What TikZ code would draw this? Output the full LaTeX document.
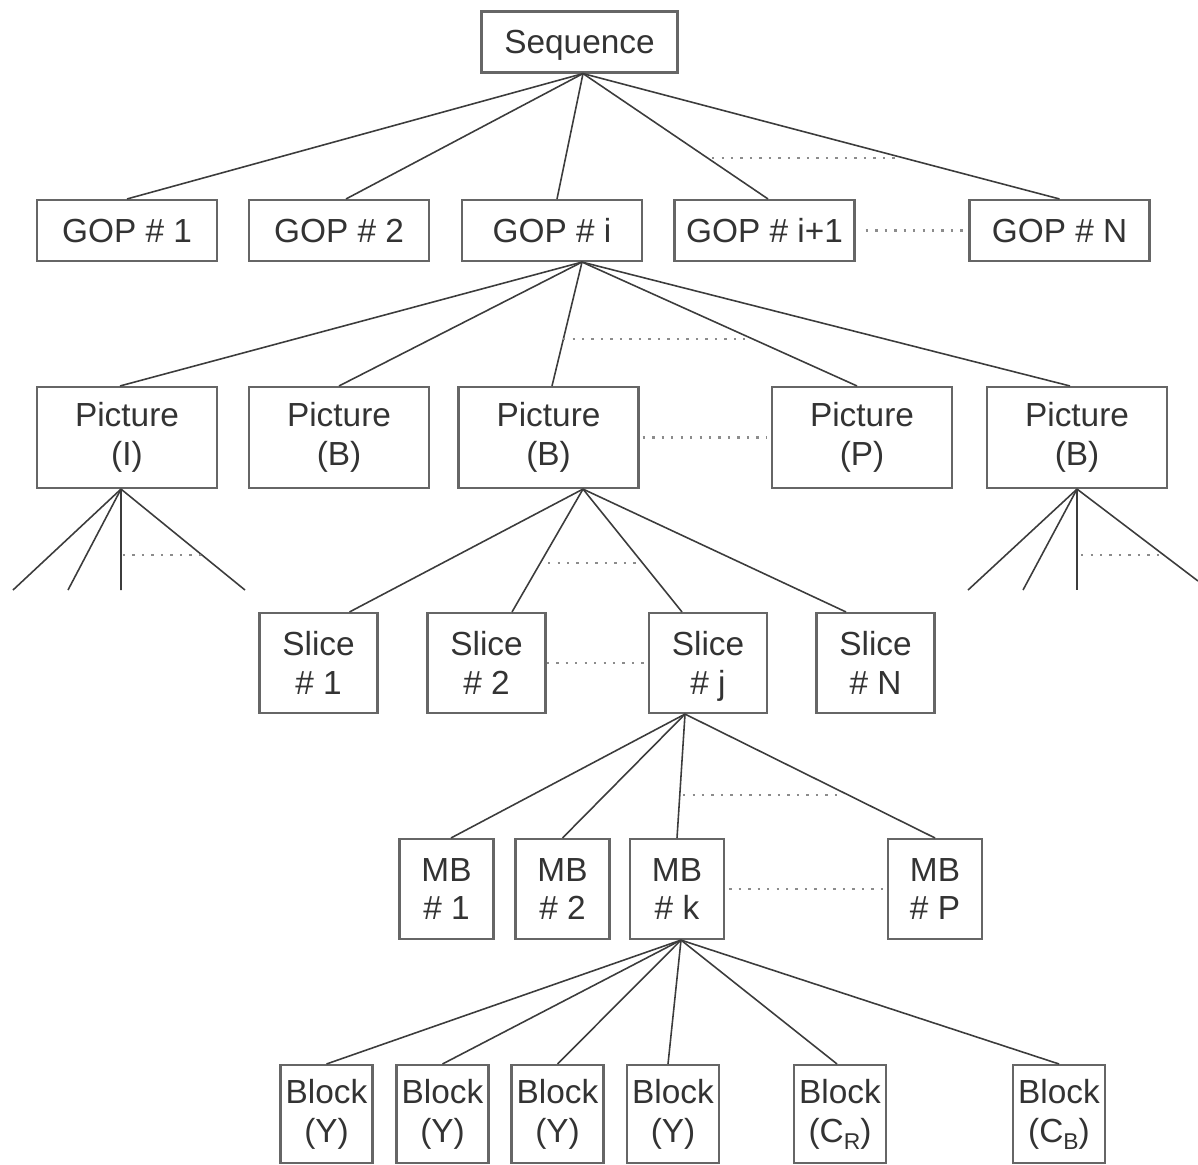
\documentclass[tikz,border=0pt]{standalone}
\usepackage{fontspec}
\setmainfont{Liberation Sans}
\usepackage{tikz}
\usetikzlibrary{positioning}
\definecolor{boxgray}{HTML}{666666}
\definecolor{linegray}{HTML}{3C3C3C}
\definecolor{dotgray}{HTML}{8C8C8C}
\definecolor{txtgray}{HTML}{333333}
\newcommand{\chsub}[1]{\smash{\raisebox{-0.45ex}{\fontsize{6.5}{7}\selectfont #1}}}

\begin{document}
\begin{tikzpicture}[x=0.1mm, y=-0.1mm]
	\tikzstyle{every node} = [draw = boxgray, line width = 0.6pt, text = txtgray, inner sep = 0pt, align = center, font = \fontsize{9.5}{11}\selectfont]
	\tikzstyle{gopbox} = [minimum width = 18mm, minimum height = 6.1mm]
	\tikzstyle{picbox} = [minimum width = 18mm, minimum height = 10.1mm]
	\tikzstyle{slicebox} = [minimum width = 11.8mm, minimum height = 10mm]
	\tikzstyle{mbbox} = [minimum width = 9.4mm, minimum height = 10mm]
	\tikzstyle{blkbox} = [minimum width = 9.2mm, minimum height = 9.8mm]
	\tikzstyle{link} = [draw = linegray, line width = 0.45pt]
	\tikzstyle{more} = [draw = dotgray, line width = 0.7pt, dotted]
\useasboundingbox (0, 0) rectangle (1198, 1164);

% top
\node[minimum width = 19.6mm, minimum height = 6.1mm, text depth = 0pt] (seq) at (579.5, 42) {Sequence};

% GOPs
\node[gopbox] (g1) at (127, 230.5) {GOP \# 1};
\node[gopbox] (g2) at (339, 230.5) {GOP \# 2};
\node[gopbox] (gi) at (552, 230.5) {GOP \# i};
\node[gopbox] (gi1) at (764.5, 230.5) {GOP \# i+1};
\node[gopbox] (gN) at (1059.5, 230.5) {GOP \# N};

% pictures
\node[picbox] (p1) at (127, 437.5) {Picture\\(I)};
\node[picbox] (p2) at (339, 437.5) {Picture\\(B)};
\node[picbox] (p3) at (548.5, 437.5) {Picture\\(B)};
\node[picbox] (p4) at (862, 437.5) {Picture\\(P)};
\node[picbox] (p5) at (1077, 437.5) {Picture\\(B)};

% slices
\node[slicebox] (s1) at (318.5, 663) {Slice\\\# 1};
\node[slicebox] (s2) at (486.5, 663) {Slice\\\# 2};
\node[slicebox] (sj) at (708, 663) {Slice\\\# \smash{j}};
\node[slicebox] (sN) at (875.5, 663) {Slice\\\# N};

% macroblocks
\node[mbbox] (m1) at (446.5, 889) {MB\\\# 1};
\node[mbbox] (m2) at (562.5, 889) {MB\\\# 2};
\node[mbbox] (mk) at (677, 889) {MB\\\# k};
\node[mbbox] (mP) at (935, 889) {MB\\\# P};

% blocks
\node[blkbox] (b1) at (326.5, 1114) {Block\\(Y)};
\node[blkbox] (b2) at (442.5, 1114) {Block\\(Y)};
\node[blkbox] (b3) at (557.5, 1114) {Block\\(Y)};
\node[blkbox] (b4) at (673, 1114) {Block\\(Y)};
\node[blkbox] (b5) at (840, 1114) {Block\\(C\chsub{R})};
\node[blkbox] (b6) at (1059, 1114) {Block\\(C\chsub{B})};

% fan origins and loose ends
\coordinate (seqo) at ([xshift = 0.35mm]seq.south);
\coordinate (gio) at ([xshift = 3mm]gi.south);
\coordinate (p1o) at ([xshift = -0.6mm]p1.south);
\coordinate (p3o) at ([xshift = 3.45mm]p3.south);
\coordinate (p5o) at (p5.south);
\coordinate (sjo) at ([xshift = -2.3mm]sj.south);
\coordinate (mko) at ([xshift = 0.4mm]mk.south);
\coordinate (e1) at (13, 590);
\coordinate (e2) at (68, 590);
\coordinate (e3) at (121, 590);
\coordinate (e4) at (245, 590);
\coordinate (f1) at (968, 590);
\coordinate (f2) at (1023, 590);
\coordinate (f3) at (1077, 590);
\coordinate (f4) at (1198, 581);

	\path[link] (seqo) -- (g1.north);
	\path[link] (seqo) -- ([xshift = 0.7mm]g2.north);
	\path[link] (seqo) -- ([xshift = 0.5mm]gi.north);
	\path[link] (seqo) -- ([xshift = 0.35mm]gi1.north);
	\path[link] (seqo) -- (gN.north);

	\path[link] (gio) -- ([xshift = -0.7mm]p1.north);
	\path[link] (gio) -- (p2.north);
	\path[link] (gio) -- ([xshift = 0.35mm]p3.north);
	\path[link] (gio) -- ([xshift = -0.5mm]p4.north);
	\path[link] (gio) -- ([xshift = -0.7mm]p5.north);

	\path[link] (p1o) -- (e1);
	\path[link] (p1o) -- (e2);
	\path[link] (p1o) -- (e3);
	\path[link] (p1o) -- (e4);
	\path[link] (p5o) -- (f1);
	\path[link] (p5o) -- (f2);
	\path[link] (p5o) -- (f3);
	\path[link] (p5o) -- (f4);

	\path[link] (p3o) -- ([xshift = 3.1mm]s1.north);
	\path[link] (p3o) -- ([xshift = 2.55mm]s2.north);
	\path[link] (p3o) -- ([xshift = -2.6mm]sj.north);
	\path[link] (p3o) -- ([xshift = -2.95mm]sN.north);

	\path[link] (sjo) -- ([xshift = 0.45mm]m1.north);
	\path[link] (sjo) -- (m2.north);
	\path[link] (sjo) -- (mk.north);
	\path[link] (sjo) -- (mP.north);

	\path[link] (mko) -- (b1.north);
	\path[link] (mko) -- (b2.north);
	\path[link] (mko) -- (b3.north);
	\path[link] (mko) -- ([xshift = -0.5mm]b4.north);
	\path[link] (mko) -- ([xshift = -0.3mm]b5.north);
	\path[link] (mko) -- (b6.north);

	% dots for the ones left out
	\path[more] (712, 158) -- (897, 158);
	\path[more] ([xshift = 1mm]gi1.east) -- ([xshift = -0.4mm]gN.west);
	\path[more] (563, 339) -- (745, 339);
	\path[more] ([xshift = 0.3mm]p3.east) -- ([xshift = -0.4mm]p4.west);
	\path[more] (123, 555) -- (207, 555);
	\path[more] (1081, 555) -- (1160, 555);
	\path[more] (548, 563) -- (640, 563);
	\path[more] (s2.east) -- ([xshift = -0.4mm]sj.west);
	\path[more] (683, 795) -- (838, 795);
	\path[more] ([xshift = 0.4mm]mk.east) -- ([xshift = -0.2mm]mP.west);
\end{tikzpicture}
\end{document}
